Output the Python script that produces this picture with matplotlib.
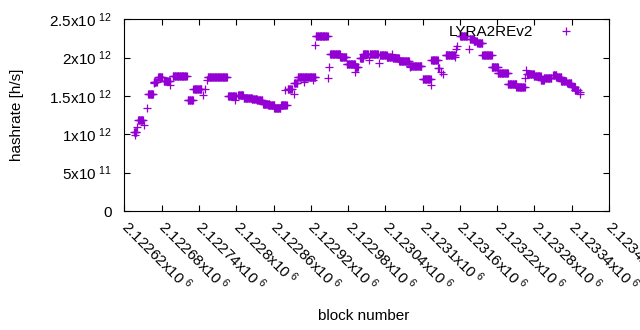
import numpy as np
import matplotlib
matplotlib.use("Agg")
import matplotlib.pyplot as plt

# =====================================
# Data: runs of blocks sharing one hashrate value
# =====================================
seg_start = [2122636, 2122637, 2122637, 2122640, 2122642, 2122652, 2122656, 2122658,
             2122667, 2122667, 2122674, 2122683, 2122694, 2122698, 2122722, 2122731,
             2122746, 2122750, 2122753, 2122754, 2122787, 2122798, 2122803, 2122812,
             2122825, 2122833, 2122843, 2122851, 2122861, 2122872, 2122878, 2122883,
             2122893, 2122893, 2122899, 2122909, 2122923, 2122927, 2122928, 2122948,
             2122950, 2122951, 2122967, 2122978, 2122991, 2122991, 2122999, 2123004,
             2123013, 2123015, 2123030, 2123031, 2123042, 2123051, 2123052, 2123062,
             2123079, 2123079, 2123100, 2123113, 2123114, 2123125, 2123130, 2123132,
             2123137, 2123152, 2123153, 2123155, 2123160, 2123174, 2123176, 2123182,
             2123188, 2123196, 2123211, 2123221, 2123237, 2123251, 2123264, 2123267,
             2123268, 2123279, 2123290, 2123295, 2123310, 2123315, 2123323, 2123333,
             2123340, 2123345, 2123353, 2123354]
seg_end = [2122639, 2122637, 2122637, 2122640, 2122650, 2122652, 2122656, 2122666,
           2122672, 2122667, 2122681, 2122693, 2122694, 2122720, 2122730, 2122744,
           2122746, 2122750, 2122753, 2122785, 2122799, 2122798, 2122811, 2122825,
           2122833, 2122842, 2122853, 2122861, 2122871, 2122881, 2122878, 2122889,
           2122893, 2122898, 2122927, 2122909, 2122923, 2122927, 2122947, 2122948,
           2122950, 2122967, 2122977, 2122991, 2122996, 2122991, 2123004, 2123012,
           2123013, 2123028, 2123030, 2123042, 2123050, 2123051, 2123062, 2123078,
           2123098, 2123079, 2123113, 2123113, 2123124, 2123127, 2123130, 2123132,
           2123152, 2123152, 2123153, 2123155, 2123171, 2123174, 2123182, 2123187,
           2123196, 2123211, 2123221, 2123237, 2123251, 2123264, 2123264, 2123267,
           2123279, 2123290, 2123295, 2123307, 2123315, 2123323, 2123331, 2123339,
           2123345, 2123350, 2123353, 2123354]
seg_value = [1.03e12, 1.032e12, 0.99e12, 1.09e12, 1.185e12, 1.116e12, 1.337e12, 1.532e12,
             1.684e12, 1.67e12, 1.75e12, 1.69e12, 1.64e12, 1.767e12, 1.445e12, 1.585e12,
             1.51e12, 1.585e12, 1.706e12, 1.75e12, 1.494e12, 1.445e12, 1.51e12, 1.48e12,
             1.467e12, 1.454e12, 1.40e12, 1.38e12, 1.337e12, 1.38e12, 1.575e12, 1.585e12,
             1.532e12, 1.663e12, 1.75e12, 1.684e12, 1.706e12, 2.16e12, 2.287e12, 1.74e12,
             1.879e12, 2.053e12, 2.01e12, 1.923e12, 1.88e12, 1.814e12, 2.0e12, 2.044e12,
             1.975e12, 2.053e12, 1.936e12, 2.04e12, 2.01e12, 2.053e12, 2.0e12, 1.962e12,
             1.897e12, 1.88e12, 1.715e12, 1.637e12, 1.975e12, 1.871e12, 1.81e12, 1.79e12,
             2.04e12, 2.01e12, 2.118e12, 2.148e12, 2.287e12, 2.118e12, 2.243e12, 2.217e12,
             2.191e12, 2.04e12, 1.879e12, 1.806e12, 1.65e12, 1.62e12, 1.74e12, 1.836e12,
             1.784e12, 1.762e12, 1.706e12, 1.736e12, 1.78e12, 1.75e12, 1.697e12, 1.663e12,
             1.62e12, 1.576e12, 1.532e12, 1.55e12]

x_ticks = np.arange(2122620, 2123401, 60)
y_ticks = [0, 5e11, 1e12, 1.5e12, 2e12, 2.5e12]
y_tick_labels = ["0", r"5x10$^{\ 11}$", r"1x10$^{\ 12}$", r"1.5x10$^{\ 12}$",
                 r"2x10$^{\ 12}$", r"2.5x10$^{\ 12}$"]

blocks = np.concatenate([np.arange(s, e + 1) for s, e in zip(seg_start, seg_end)])
rates = np.concatenate([np.full(e - s + 1, v)
                        for s, e, v in zip(seg_start, seg_end, seg_value)])

# =====================================
# Style
# =====================================
plt.rcParams['font.family'] = ['Liberation Sans', 'DejaVu Sans']
plt.rcParams['mathtext.default'] = 'regular'
FS = 11

fig = plt.figure(figsize=(6.4, 3.3), dpi=100)
ax = fig.add_axes([0.1944, 0.3606, 0.7572, 0.5809])

ax.plot(blocks, rates, linestyle='none', marker='+', color='#9400d3',
        markersize=6, markeredgewidth=0.9, label='LYRA2REv2')

ax.set_xlim(2122620, 2123400)
ax.set_ylim(0, 2.5e12)

ax.set_xticks(x_ticks)
ax.set_xticklabels([rf"{v / 1e6:g}x10$^{{\ 6}}$" for v in x_ticks],
                   rotation=-45, ha='left', va='center', rotation_mode='anchor')
ax.set_yticks(y_ticks)
ax.set_yticklabels(y_tick_labels)

ax.tick_params(direction='in', length=4, width=0.8, top=True, right=True,
               labelsize=FS)
ax.tick_params(axis='x', pad=9)
ax.tick_params(axis='y', pad=9)
for sp in ax.spines.values():
    sp.set_linewidth(0.8)

ax.set_xlabel("block number", fontsize=FS)
ax.xaxis.set_label_coords(0.494, -0.547)
ax.xaxis.label.set_va('center')
ax.set_ylabel("hashrate [h/s]", fontsize=FS)
ax.yaxis.set_label_coords(-0.221, 0.5)
ax.yaxis.label.set_va('center')

ax.legend(loc='upper right', frameon=False, markerfirst=False, fontsize=FS,
          handlelength=2.0, handletextpad=1.2, borderaxespad=0.0,
          bbox_to_anchor=(0.956, 1.0))

fig.savefig("out.png", dpi=100)
